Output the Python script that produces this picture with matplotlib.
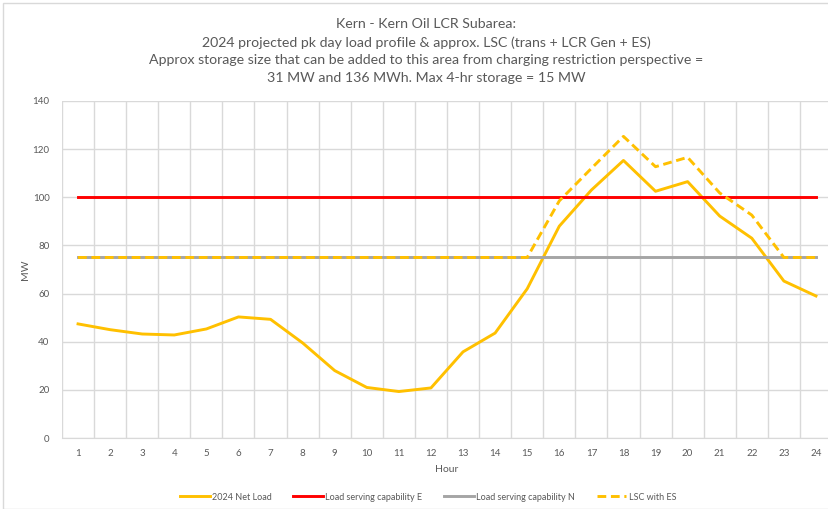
import matplotlib
matplotlib.use("Agg")
import matplotlib.pyplot as plt
from matplotlib.patches import Rectangle

# Hourly data
hours = list(range(1, 25))
net_load = [47.4, 45.0, 43.2, 42.8, 45.3, 50.3, 49.3, 39.5, 28.0, 21.0, 19.3, 20.8,
            35.8, 43.6, 62.0, 88.0, 103.0, 115.3, 102.5, 106.5, 92.2, 83.0, 65.2, 59.0]
lsc_e = [100] * 24
lsc_n = [75] * 24
lsc_es = [75, 75, 75, 75, 75, 75, 75, 75, 75, 75, 75, 75,
          75, 75, 75, 98.5, 112.0, 125.3, 112.7, 116.6, 101.8, 92.6, 75, 75]

title = ("Kern - Kern Oil LCR Subarea:\n"
         "2024 projected pk day load profile & approx. LSC (trans + LCR Gen + ES)\n"
         "Approx storage size that can be added to this area from charging restriction perspective =\n"
         "31 MW and 136 MWh. Max 4-hr storage = 15 MW")

plt.rcParams['font.family'] = ['Lato', 'DejaVu Sans']
TXT = '#595959'
GRID = '#D9D9D9'

W, H = 829, 509
fig = plt.figure(figsize=(W / 100, H / 100), dpi=100)
fig.patches.append(Rectangle((3 / W, 0), 1, 1 - 3 / H, transform=fig.transFigure,
                             fill=False, edgecolor='#D9D9D9', linewidth=1))

ax = fig.add_axes([62 / W, 1 - 438 / H, 770 / W, 337 / H])

lw = 2.1
ax.plot(hours, net_load, color='#FFC000', lw=lw, label='2024 Net Load', zorder=3)
ax.plot(hours, lsc_e, color='#FF0000', lw=lw, label='Load serving capability E', zorder=3)
ax.plot(hours, lsc_n, color='#A5A5A5', lw=lw, label='Load serving capability N', zorder=3)
ax.plot(hours, lsc_es, color='#FFC000', lw=lw, ls=(0, (3, 1.6)), label='LSC with ES', zorder=4)

ax.set_xlim(0.5, 24.5)
ax.set_ylim(0, 140)
ax.set_yticks(range(0, 141, 20))
ax.set_xticks(hours)
ax.set_xticks([h + 0.5 for h in range(0, 25)], minor=True)
ax.grid(True, axis='y', color=GRID, lw=1)
ax.grid(True, axis='x', which='minor', color=GRID, lw=1)
ax.set_axisbelow(True)
for s in ['top', 'right', 'left']:
    ax.spines[s].set_visible(False)
ax.spines['bottom'].set_color(GRID)
ax.tick_params(which='both', length=0, colors=TXT, labelsize=7)
ax.tick_params(axis='y', pad=9)
ax.tick_params(axis='x', pad=8)

ax.set_xlabel('Hour', color=TXT, fontsize=7.5, labelpad=5)
ax.set_ylabel('MW', color=TXT, fontsize=7.5, labelpad=0)
ax.yaxis.set_label_coords(-32 / 770, 0.5)

fig.text(426 / W, 1 - 51 / H, title, ha='center', va='center', color=TXT,
         fontsize=10.2, linespacing=1.55)

fig.legend(loc='center', bbox_to_anchor=(428 / W, 1 - 497 / H), ncol=4, frameon=False,
           fontsize=6.5, labelcolor=TXT, handlelength=3.3, handletextpad=0.25,
           columnspacing=2.4)

fig.savefig('out.png', dpi=100)
